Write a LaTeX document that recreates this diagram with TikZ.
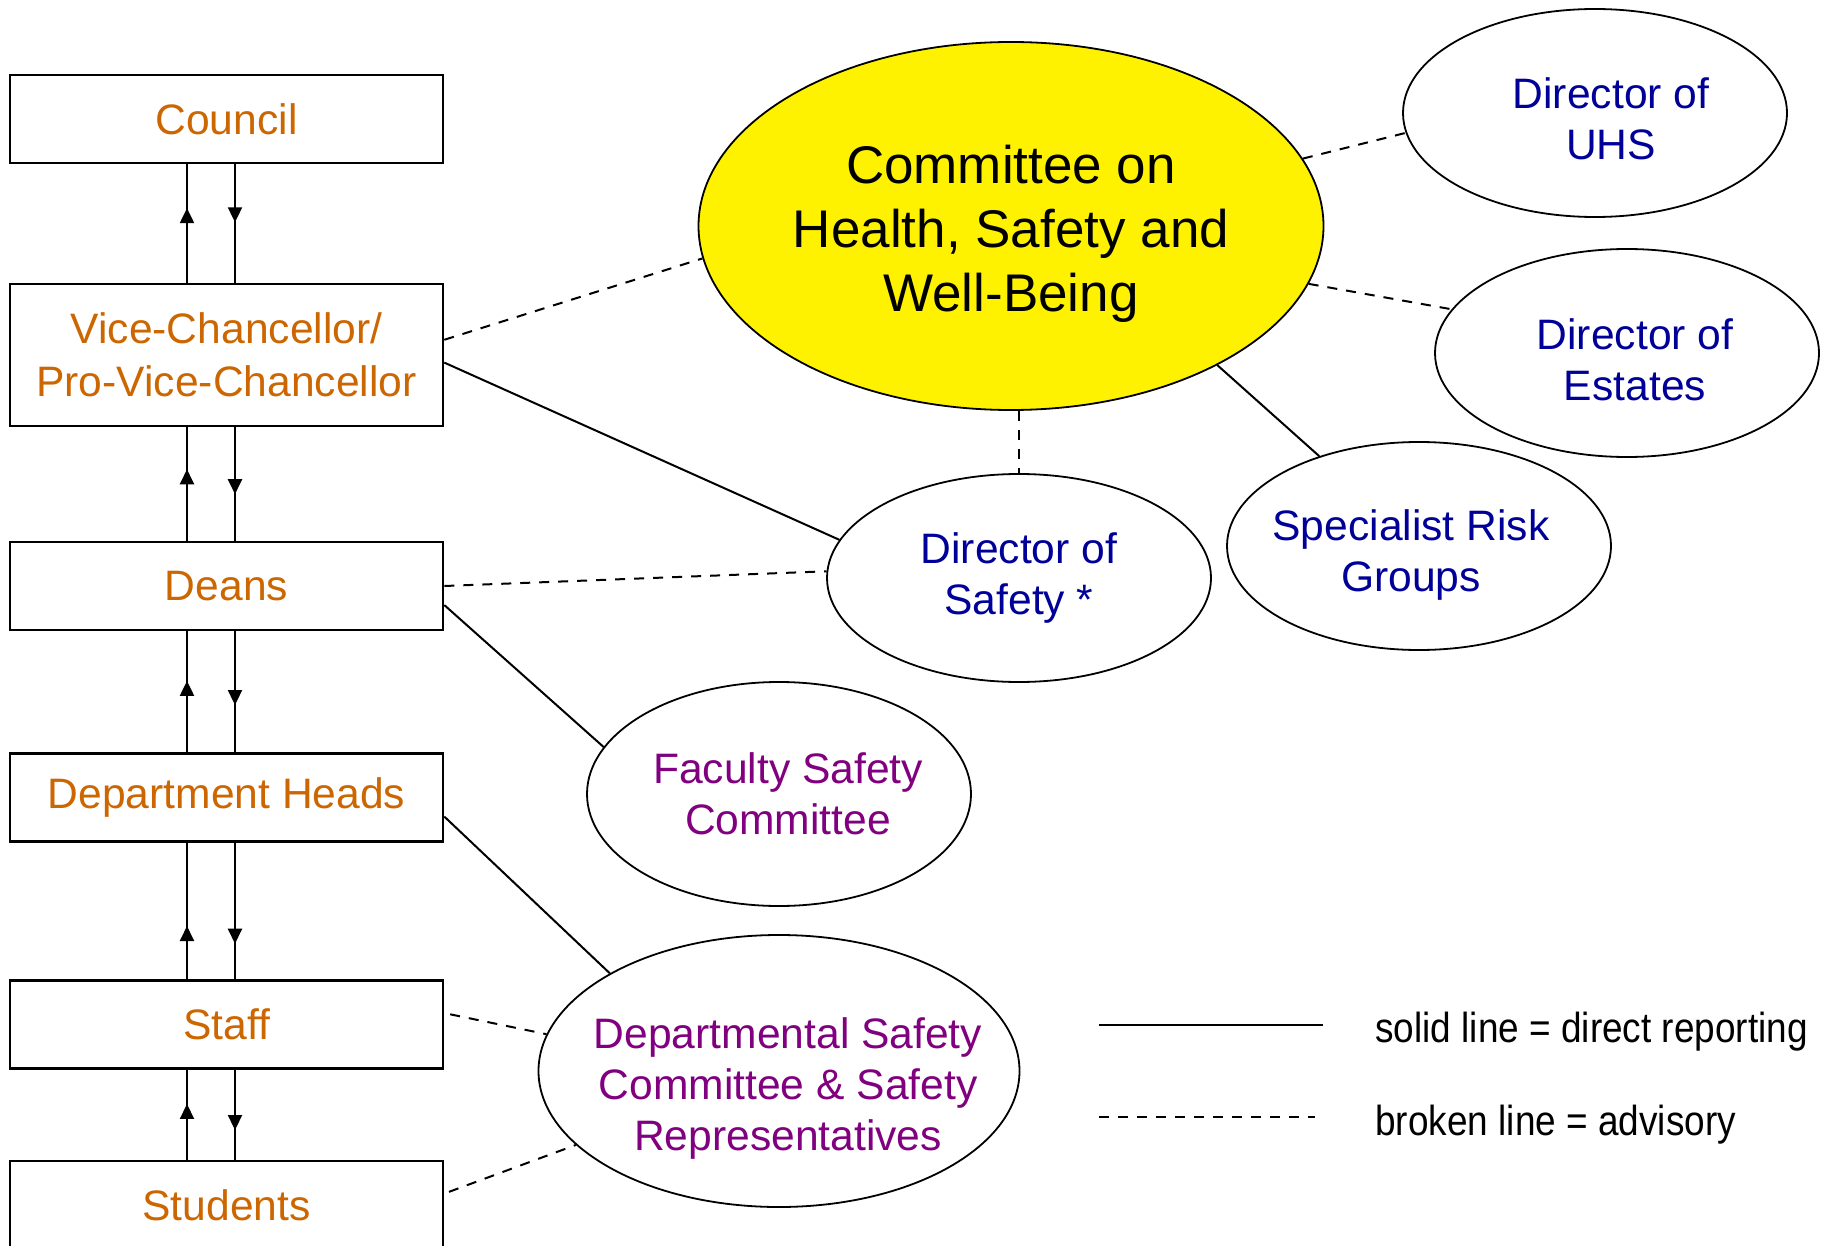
\documentclass[tikz,border=0pt]{standalone}
\usepackage{fontspec}
\setmainfont{Liberation Sans}
\newfontfamily\legendfont{Liberation Sans}[FakeStretch=0.88]
\usepackage{tikz}
\usetikzlibrary{arrows.meta, shapes.geometric, decorations.markings}
\definecolor{boxorange}{RGB}{204,102,0}
\definecolor{dirblue}{RGB}{0,0,153}
\definecolor{compurple}{RGB}{128,0,128}

\begin{document}
\begin{tikzpicture}[
    x=0.5pt, y=-0.5pt,
    level/.style={rectangle, draw, line width=1.3pt, minimum width=216.5pt, minimum height=44pt, inner sep=0pt, text=boxorange, align=center, font=\fontsize{21.3}{26.5}\selectfont},
    role/.style={ellipse, draw, line width=0.9pt, inner sep=0pt, minimum width=192pt, minimum height=104pt},
    caption/.style={align=center, inner sep=0pt, font=\fontsize{21.3}{25.5}\selectfont},
    director/.style={caption, text=dirblue},
    safetycom/.style={caption, text=compurple},
    line/.style={draw, line width=1pt},
    advisory/.style={line, dash pattern=on 5pt off 4.5pt},
    midarrow/.style={line, postaction={decorate, decoration={markings, mark=at position #1 with {\arrow{Triangle[length=7.5pt,width=7pt]}}}}},
    key/.style={anchor=base west, inner sep=0pt, font=\legendfont\fontsize{21}{25}\selectfont}
]
    \useasboundingbox (0,0) rectangle (1825,1246);

    % line of management
    \node (council) [level] at (226.5,119) {Council};
    \node (vc) [level, minimum height=71pt] at (226.5,355) {Vice-Chancellor/\\Pro-Vice-Chancellor};
    \node (deans) [level] at (226.5,586) {Deans};
    \node (heads) [level] at (226.5,797.5) {Department Heads};
    \node (staff) [level] at (226.5,1024.5) {Staff};
    \node (students) [level] at (226.5,1205) {Students};

    % committees and directors
    \node (committee) [role, fill=yellow, minimum width=312.5pt, minimum height=184pt] at (1011,226) {};
    \node (uhs) [role] at (1595,113) {};
    \node (estates) [role] at (1627,353) {};
    \node (specialist) [role] at (1419,546) {};
    \node (safety) [role] at (1019,578) {};
    \node (faculty) [role, minimum height=112pt] at (779,794) {};
    \node (deptcom) [role, minimum width=240.5pt, minimum height=136pt] at (779,1071) {};

    \node (committeetext) [caption, font=\fontsize{26.5}{32}\selectfont] at ([yshift=-4pt]committee.center) {Committee on\\Health, Safety and\\Well-Being};
    \node (uhstext) [director] at ([shift={(8pt,-3pt)}]uhs.center) {Director of\\UHS};
    \node (estatestext) [director] at ([shift={(4pt,-3.5pt)}]estates.center) {Director of\\Estates};
    \node (specialisttext) [director] at ([shift={(-4pt,-4.5pt)}]specialist.center) {Specialist Risk\\Groups};
    \node (safetytext) [director] at (safety.center) {Director of\\Safety *};
    \node (facultytext) [safetycom] at ([xshift=4.5pt]faculty.center) {Faculty Safety\\Committee};
    \node (deptcomtext) [safetycom] at ([shift={(4.5pt,-8.5pt)}]deptcom.center) {Departmental Safety\\Committee \& Safety\\Representatives};

    \draw[midarrow=0.63] ([xshift=-19.75pt]vc.north) -- ([xshift=-19.75pt]council.south);
    \draw[midarrow=0.49] ([xshift=4.25pt]council.south) -- ([xshift=4.25pt]vc.north);
    \draw[midarrow=0.63] ([xshift=-19.75pt]deans.north) -- ([xshift=-19.75pt]vc.south);
    \draw[midarrow=0.59] ([xshift=4.25pt]vc.south) -- ([xshift=4.25pt]deans.north);
    \draw[midarrow=0.59] ([xshift=-19.75pt]heads.north) -- ([xshift=-19.75pt]deans.south);
    \draw[midarrow=0.61] ([xshift=4.25pt]deans.south) -- ([xshift=4.25pt]heads.north);
    \draw[midarrow=0.39] ([xshift=-19.75pt]staff.north) -- ([xshift=-19.75pt]heads.south);
    \draw[midarrow=0.74] ([xshift=4.25pt]heads.south) -- ([xshift=4.25pt]staff.north);
    \draw[midarrow=0.62] ([xshift=-19.75pt]students.north) -- ([xshift=-19.75pt]staff.south);
    \draw[midarrow=0.67] ([xshift=4.25pt]staff.south) -- ([xshift=4.25pt]students.north);

    \draw[advisory] (vc.4) -- (committee.186);
    \draw[line] (vc.-2) -- (safety.168);
    \draw[advisory] (committee.13) -- (uhs.186);
    \draw[advisory] (committee.-11) -- (estates.166);
    \draw[line] (committee.-34) -- (specialist.138);
    \draw[advisory] (committee.south -| safety.north) -- (safety.north);
    \draw[advisory] (deans.east) -- (safety.178);
    \draw[line] (deans.-5) -- (faculty.165);
    \draw[line] (heads.-5) -- (deptcom.150);
    \draw[advisory, shorten <=3pt] (staff.3) -- (deptcom.171);
    \draw[advisory, shorten <=2.5pt] (students.3) -- (deptcom.200);

    % legend
    \coordinate (solidA) at (1099,1025);
    \coordinate (solidB) at (1323,1025);
    \coordinate (brokenA) at (1099,1117);
    \coordinate (brokenB) at (1315,1117);
    \draw[line] (solidA) -- (solidB);
    \draw[advisory] (brokenA) -- (brokenB);
    \node (solidkey) [key] at (1375,1042) {solid line = direct reporting};
    \node (brokenkey) [key] at (1375,1135) {broken line = advisory};

\end{tikzpicture}
\end{document}
